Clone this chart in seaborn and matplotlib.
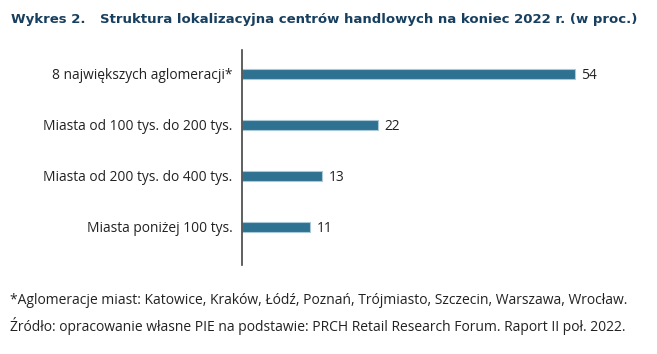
import matplotlib
matplotlib.use("Agg")
import matplotlib.pyplot as plt
import seaborn as sns
import pandas as pd

categories = ["8 największych aglomeracji*", "Miasta od 100 tys. do 200 tys.",
              "Miasta od 200 tys. do 400 tys.", "Miasta poniżej 100 tys."]
values = [54, 22, 13, 11]
title_num = "Wykres 2."
title_txt = "Struktura lokalizacyjna centrów handlowych na koniec 2022 r. (w proc.)"
note1 = "*Aglomeracje miast: Katowice, Kraków, Łódź, Poznań, Trójmiasto, Szczecin, Warszawa, Wrocław."
note2 = "Źródło: opracowanie własne PIE na podstawie: PRCH Retail Research Forum. Raport II poł. 2022."

sns.set_theme(style="white")
plt.rcParams['font.family'] = ['Open Sans', 'DejaVu Sans']

df = pd.DataFrame({"cat": categories, "val": values})
fig = plt.figure(figsize=(6.57, 3.54), dpi=100)
ax = fig.add_axes([242/657, 1-265/354, (624-242)/657, (265-50)/354])
sns.barplot(data=df, y="cat", x="val", ax=ax, color="#2e7191", width=0.19,
            edgecolor="#a9c8d8", linewidth=0.8, saturation=1)
ax.set_xlim(0, 62)
ax.set_ylim(3.75, -0.47)
for s in ["top", "right", "bottom"]:
    ax.spines[s].set_visible(False)
ax.spines["left"].set_color("#444444")
ax.spines["left"].set_linewidth(1.2)
ax.set_xticks([])
ax.set_xlabel("")
ax.set_ylabel("")
ax.tick_params(axis="y", length=0, pad=7, labelsize=9.9, labelcolor="#222222")
for i, v in enumerate(values):
    ax.text(v + 1.1, i, str(v), va="center_baseline", ha="left", fontsize=9.9, color="#222222")

fig.text(11/657, 1-19/354, title_num, fontsize=9.55, fontweight="bold", color="#173f5f",
         va="center", ha="left", family=['DejaVu Sans'])
fig.text(100/657, 1-19/354, title_txt, fontsize=9.55, fontweight="bold", color="#173f5f",
         va="center", ha="left", family=['DejaVu Sans'])
fig.text(10/657, 1-300/354, note1, fontsize=10.0, color="#222222", va="center", ha="left")
fig.text(10/657, 1-326/354, note2, fontsize=10.0, color="#222222", va="center", ha="left")

fig.savefig("out.png", dpi=100, facecolor="white")
